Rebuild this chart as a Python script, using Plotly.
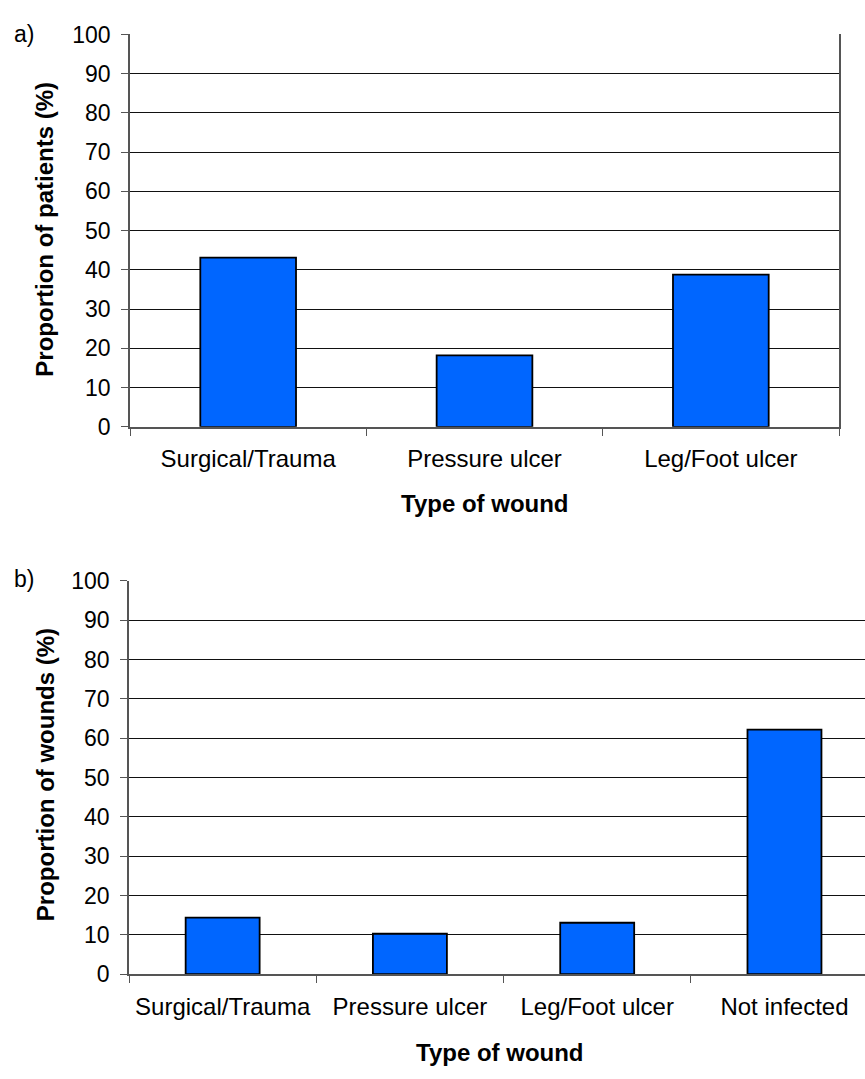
import plotly.graph_objects as go

# Panel a
cats_a = ["Surgical/Trauma", "Pressure ulcer", "Leg/Foot ulcer"]
vals_a = [43.1, 18.2, 38.8]
# Panel b
cats_b = ["Surgical/Trauma", "Pressure ulcer", "Leg/Foot ulcer", "Not infected"]
vals_b = [14.4, 10.3, 13.1, 62.2]
y_ticks = [0, 10, 20, 30, 40, 50, 60, 70, 80, 90, 100]

W, H = 865, 1079
def py(px):
    return 1 - px / H
def pxx(px):
    return px / W

FONT = "Liberation Sans, Arial, sans-serif"
BAR = "#0066FF"

fig = go.Figure()
fig.add_trace(go.Bar(x=cats_a, y=vals_a, width=0.405, marker=dict(color=BAR, line=dict(color="#000", width=1.8)),
                     xaxis="x", yaxis="y", showlegend=False))
fig.add_trace(go.Bar(x=cats_b, y=vals_b, width=0.395, marker=dict(color=BAR, line=dict(color="#000", width=1.8)),
                     xaxis="x2", yaxis="y2", showlegend=False))

tickfont = dict(family=FONT, size=23, color="#000")
catfont = dict(family=FONT, size=24, color="#000")

yax = dict(range=[0, 100], tickvals=y_ticks, showgrid=True, gridcolor="#111", gridwidth=1,
           showline=True, linecolor="#555", linewidth=1.5, ticks="outside", ticklen=7, tickcolor="#555",
           tickfont=tickfont, zeroline=False, ticklabelstandoff=6, fixedrange=True)
xax = dict(type="category", showline=True, linecolor="#555", linewidth=1.5, ticks="outside", ticklen=7,
           tickcolor="#555", tickson="boundaries", tickfont=catfont, showgrid=False, ticklabelstandoff=10)

fig.update_layout(
    width=W, height=H, margin=dict(l=0, r=0, t=0, b=0),
    paper_bgcolor="white", plot_bgcolor="white",
    xaxis=dict(xax, domain=[pxx(130), pxx(839)], range=[-0.5, 2.5], anchor="y"),
    yaxis=dict(yax, domain=[py(424), py(22)], anchor="x", mirror=True),
    xaxis2=dict(xax, domain=[pxx(129), 1.0], range=[-0.5, 3.43], anchor="y2"),
    yaxis2=dict(yax, domain=[py(985), py(582)], anchor="x2"),
    bargap=0.6,
)

ann = []
titlefont = dict(family=FONT, size=24, color="#000", weight="bold")
ann.append(dict(text="Proportion of patients (%)", x=pxx(45), y=py(222), textangle=-90, font=titlefont))
ann.append(dict(text="Proportion of wounds (%)", x=pxx(45), y=py(781), textangle=-90, font=titlefont))
ann.append(dict(text="Type of wound", x=pxx(485), y=py(503), font=titlefont))
ann.append(dict(text="Type of wound", x=pxx(500), y=py(1065), font=titlefont))
ann.append(dict(text="a)", x=pxx(24), y=py(22), font=dict(family=FONT, size=23, color="#000")))
ann.append(dict(text="b)", x=pxx(24), y=py(580), font=dict(family=FONT, size=23, color="#000")))
for a in ann:
    a.update(xref="paper", yref="paper", showarrow=False, xanchor="center", yanchor="middle")
fig.update_layout(annotations=ann)

fig.write_html("out.html")
